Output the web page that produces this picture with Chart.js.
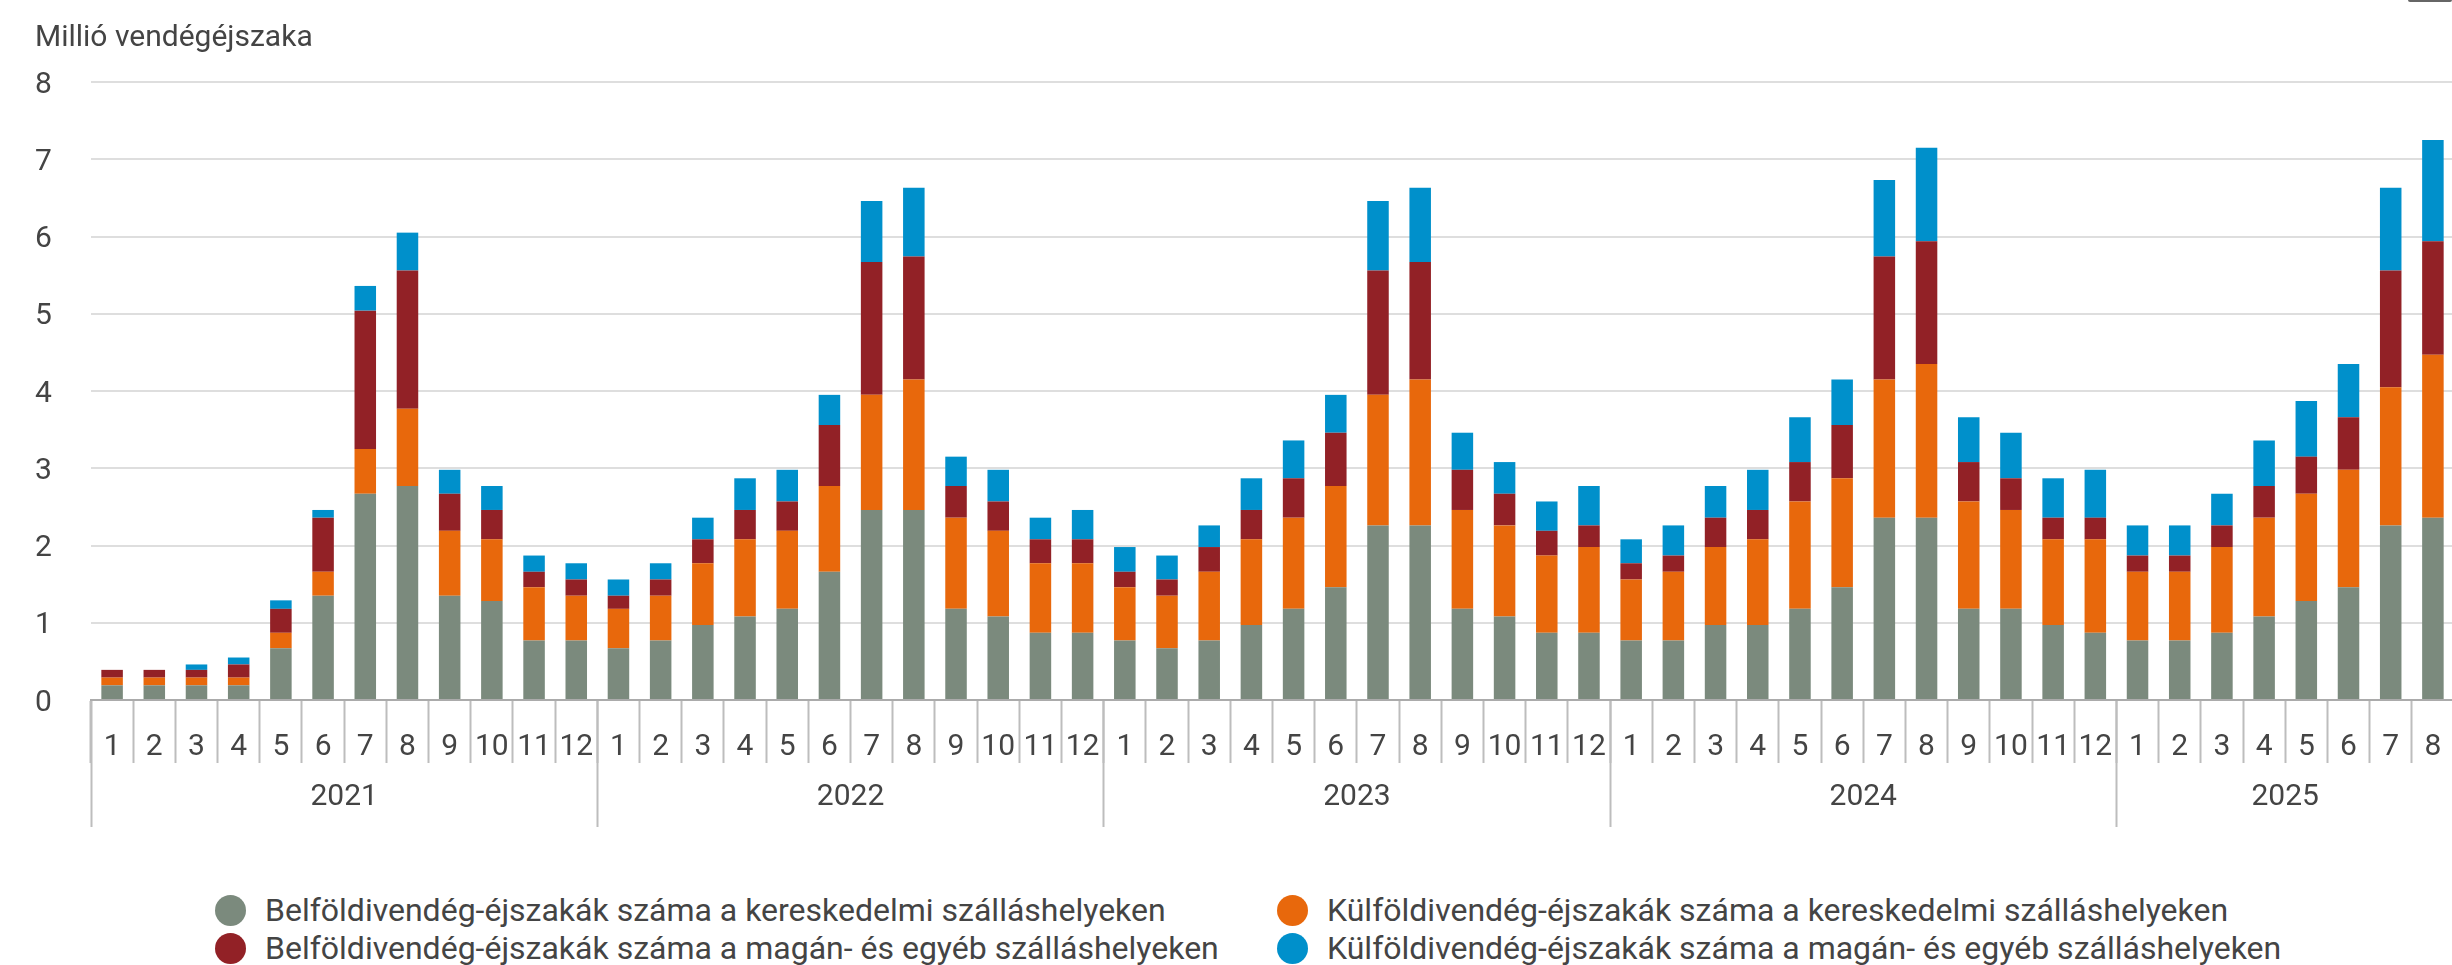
<!DOCTYPE html>
<html lang="hu">
<head>
    <meta charset="UTF-8">
    <title>Vendégéjszakák</title>
    <script src="https://cdn.jsdelivr.net/npm/chart.js@4.4.0/dist/chart.umd.min.js"></script>
    <style>
        * {
            margin: 0;
            padding: 0;
            box-sizing: border-box;
        }

        html, body {
            width: 2452px;
            height: 965px;
            overflow: hidden;
            background: #ffffff;
            font-family: Roboto, sans-serif;
        }

        .chart-box {
            position: absolute;
            left: 0;
            top: 0;
            width: 2454px;
            height: 860px;
        }

        .menu-edge {
            position: absolute;
            left: 2408px;
            top: 0;
            width: 44px;
            height: 2px;
            background: #666;
            border-radius: 0 0 2px 2px;
        }

        #legend {
            position: absolute;
            left: 215px;
            top: 891px;
            display: grid;
            grid-template-columns: 1062px 1062px;
        }

        .legend-item {
            display: flex;
            align-items: center;
            height: 38px;
            font-size: 32px;
            color: #444;
            white-space: nowrap;
        }

        .legend-dot {
            width: 31px;
            height: 31px;
            border-radius: 50%;
            margin-right: 19px;
            flex: none;
        }
    </style>
</head>
<body>
    <div class="chart-box">
        <canvas id="nightsChart"></canvas>
    </div>
    <div class="menu-edge"></div>
    <div id="legend"></div>

    <script>
        // Years shown and how many months each has data for
        const years = ['2021', '2022', '2023', '2024', '2025'];
        const monthsInYear = [12, 12, 12, 12, 8];

        // Million guest nights, by month (stacked from bottom to top)
        const belfoldKereskedelmi = [
            0.19, 0.19, 0.19, 0.19, 0.67, 1.35, 2.67, 2.77, 1.35, 1.28, 0.77, 0.77,
            0.67, 0.77, 0.97, 1.08, 1.18, 1.66, 2.46, 2.46, 1.18, 1.08, 0.87, 0.87,
            0.77, 0.67, 0.77, 0.97, 1.18, 1.46, 2.26, 2.26, 1.18, 1.08, 0.87, 0.87,
            0.77, 0.77, 0.97, 0.97, 1.18, 1.46, 2.36, 2.36, 1.18, 1.18, 0.97, 0.87,
            0.77, 0.77, 0.87, 1.08, 1.28, 1.46, 2.26, 2.36
        ];
        const kulfoldKereskedelmi = [
            0.10, 0.10, 0.10, 0.10, 0.20, 0.31, 0.58, 1.00, 0.84, 0.80, 0.69, 0.58,
            0.51, 0.58, 0.80, 1.00, 1.01, 1.11, 1.49, 1.69, 1.18, 1.11, 0.90, 0.90,
            0.69, 0.68, 0.89, 1.11, 1.18, 1.31, 1.69, 1.89, 1.28, 1.18, 1.00, 1.11,
            0.79, 0.89, 1.01, 1.11, 1.39, 1.41, 1.79, 1.99, 1.39, 1.28, 1.11, 1.21,
            0.89, 0.89, 1.11, 1.28, 1.39, 1.52, 1.79, 2.11
        ];
        const belfoldMagan = [
            0.10, 0.10, 0.10, 0.17, 0.31, 0.70, 1.79, 1.79, 0.48, 0.38, 0.20, 0.21,
            0.17, 0.21, 0.31, 0.38, 0.38, 0.79, 1.72, 1.59, 0.41, 0.38, 0.31, 0.31,
            0.20, 0.21, 0.32, 0.38, 0.51, 0.69, 1.61, 1.52, 0.52, 0.41, 0.32, 0.28,
            0.21, 0.21, 0.38, 0.38, 0.51, 0.69, 1.59, 1.59, 0.51, 0.41, 0.28, 0.28,
            0.21, 0.21, 0.28, 0.41, 0.48, 0.68, 1.51, 1.47
        ];
        const kulfoldMagan = [
            0.00, 0.00, 0.07, 0.09, 0.11, 0.10, 0.32, 0.49, 0.31, 0.31, 0.21, 0.21,
            0.21, 0.21, 0.28, 0.41, 0.41, 0.39, 0.79, 0.89, 0.38, 0.41, 0.28, 0.38,
            0.32, 0.31, 0.28, 0.41, 0.49, 0.49, 0.90, 0.96, 0.48, 0.41, 0.38, 0.51,
            0.31, 0.39, 0.41, 0.52, 0.58, 0.59, 0.99, 1.21, 0.58, 0.59, 0.51, 0.62,
            0.39, 0.39, 0.41, 0.59, 0.72, 0.69, 1.07, 1.31
        ];

        // Month labels 1..n for every year
        const monthLabels = [];
        monthsInYear.forEach(n => {
            for (let m = 1; m <= n; m++) monthLabels.push(String(m));
        });

        // Year group edges and centres on the category index scale
        const yearEdges = [-0.5];
        const yearCenters = [];
        let start = 0;
        monthsInYear.forEach(n => {
            yearCenters.push(start + n / 2 - 0.5);
            start += n;
            yearEdges.push(start - 0.5);
        });
        const lastIndex = monthLabels.length - 0.5;

        const FONT = 30;
        const TEXT = '#444';
        Chart.defaults.font.family = 'Roboto, sans-serif';

        const series = [
            { label: 'Belföldivendég-éjszakák száma a kereskedelmi szálláshelyeken', data: belfoldKereskedelmi, color: '#7b8a7d' },
            { label: 'Külföldivendég-éjszakák száma a kereskedelmi szálláshelyeken', data: kulfoldKereskedelmi, color: '#e8680c' },
            { label: 'Belföldivendég-éjszakák száma a magán- és egyéb szálláshelyeken', data: belfoldMagan, color: '#922126' },
            { label: 'Külföldivendég-éjszakák száma a magán- és egyéb szálláshelyeken', data: kulfoldMagan, color: '#0090cb' }
        ];

        // Linear index axes pinned to y = 0, sharing the month axis extent
        function yearAxis(extra) {
            return Object.assign({
                axis: 'x',
                type: 'linear',
                position: { y: 0 },
                min: -0.5,
                max: lastIndex,
                bounds: 'data',
                offset: false,
                border: { display: false },
                afterFit: s => { s.height = 0; }
            }, extra);
        }

        const chart = new Chart(document.getElementById('nightsChart'), {
            type: 'bar',
            data: {
                labels: monthLabels,
                datasets: series.map(s => ({
                    label: s.label,
                    data: s.data,
                    backgroundColor: s.color,
                    borderWidth: 0,
                    barPercentage: 0.51,
                    categoryPercentage: 1,
                    xAxisID: 'x',
                    yAxisID: 'y'
                }))
            },
            options: {
                responsive: true,
                maintainAspectRatio: false,
                animation: false,
                layout: { padding: { left: 35, right: 0, top: 0, bottom: 0 } },
                plugins: {
                    legend: { display: false },
                    tooltip: { enabled: false },
                    title: {
                        display: true,
                        text: 'Millió vendégéjszaka',
                        align: 'start',
                        color: TEXT,
                        font: { size: FONT, weight: 'normal' },
                        padding: { top: 20, bottom: 26 }
                    }
                },
                scales: {
                    x: {
                        stacked: true,
                        grid: {
                            offset: true,
                            drawOnChartArea: false,
                            tickLength: 63,
                            tickColor: '#bdbdbd',
                            tickWidth: 2
                        },
                        border: { color: '#ababab', width: 2 },
                        ticks: {
                            autoSkip: false,
                            maxRotation: 0,
                            color: TEXT,
                            font: { size: FONT },
                            padding: -34
                        },
                        afterFit: s => { s.height = 160; }
                    },
                    // long separators between the years
                    xYearLines: yearAxis({
                        afterBuildTicks: s => { s.ticks = yearEdges.map(v => ({ value: v })); },
                        grid: {
                            offset: false,
                            drawOnChartArea: false,
                            tickLength: 127,
                            tickColor: '#bdbdbd',
                            tickWidth: 2
                        },
                        ticks: { display: false }
                    }),
                    // year names centred under their months
                    xYears: yearAxis({
                        afterBuildTicks: s => { s.ticks = yearCenters.map(v => ({ value: v })); },
                        grid: { display: false, offset: false },
                        ticks: {
                            autoSkip: false,
                            maxRotation: 0,
                            color: TEXT,
                            font: { size: FONT },
                            padding: 71,
                            callback: v => years[yearCenters.indexOf(v)]
                        }
                    }),
                    y: {
                        stacked: true,
                        min: 0,
                        max: 8,
                        ticks: {
                            stepSize: 1,
                            color: TEXT,
                            font: { size: FONT },
                            crossAlign: 'far',
                            labelOffset: 3,
                            padding: 0
                        },
                        grid: { color: '#dedede', lineWidth: 2, drawTicks: false },
                        border: { display: false },
                        afterFit: s => { s.width = 56; }
                    }
                }
            }
        });

        // Two-column legend built from the chart's datasets
        const legendEl = document.getElementById('legend');
        chart.data.datasets.forEach(ds => {
            const item = document.createElement('div');
            item.className = 'legend-item';
            const dot = document.createElement('span');
            dot.className = 'legend-dot';
            dot.style.background = ds.backgroundColor;
            const text = document.createElement('span');
            text.textContent = ds.label;
            item.appendChild(dot);
            item.appendChild(text);
            legendEl.appendChild(item);
        });
    </script>
</body>
</html>
